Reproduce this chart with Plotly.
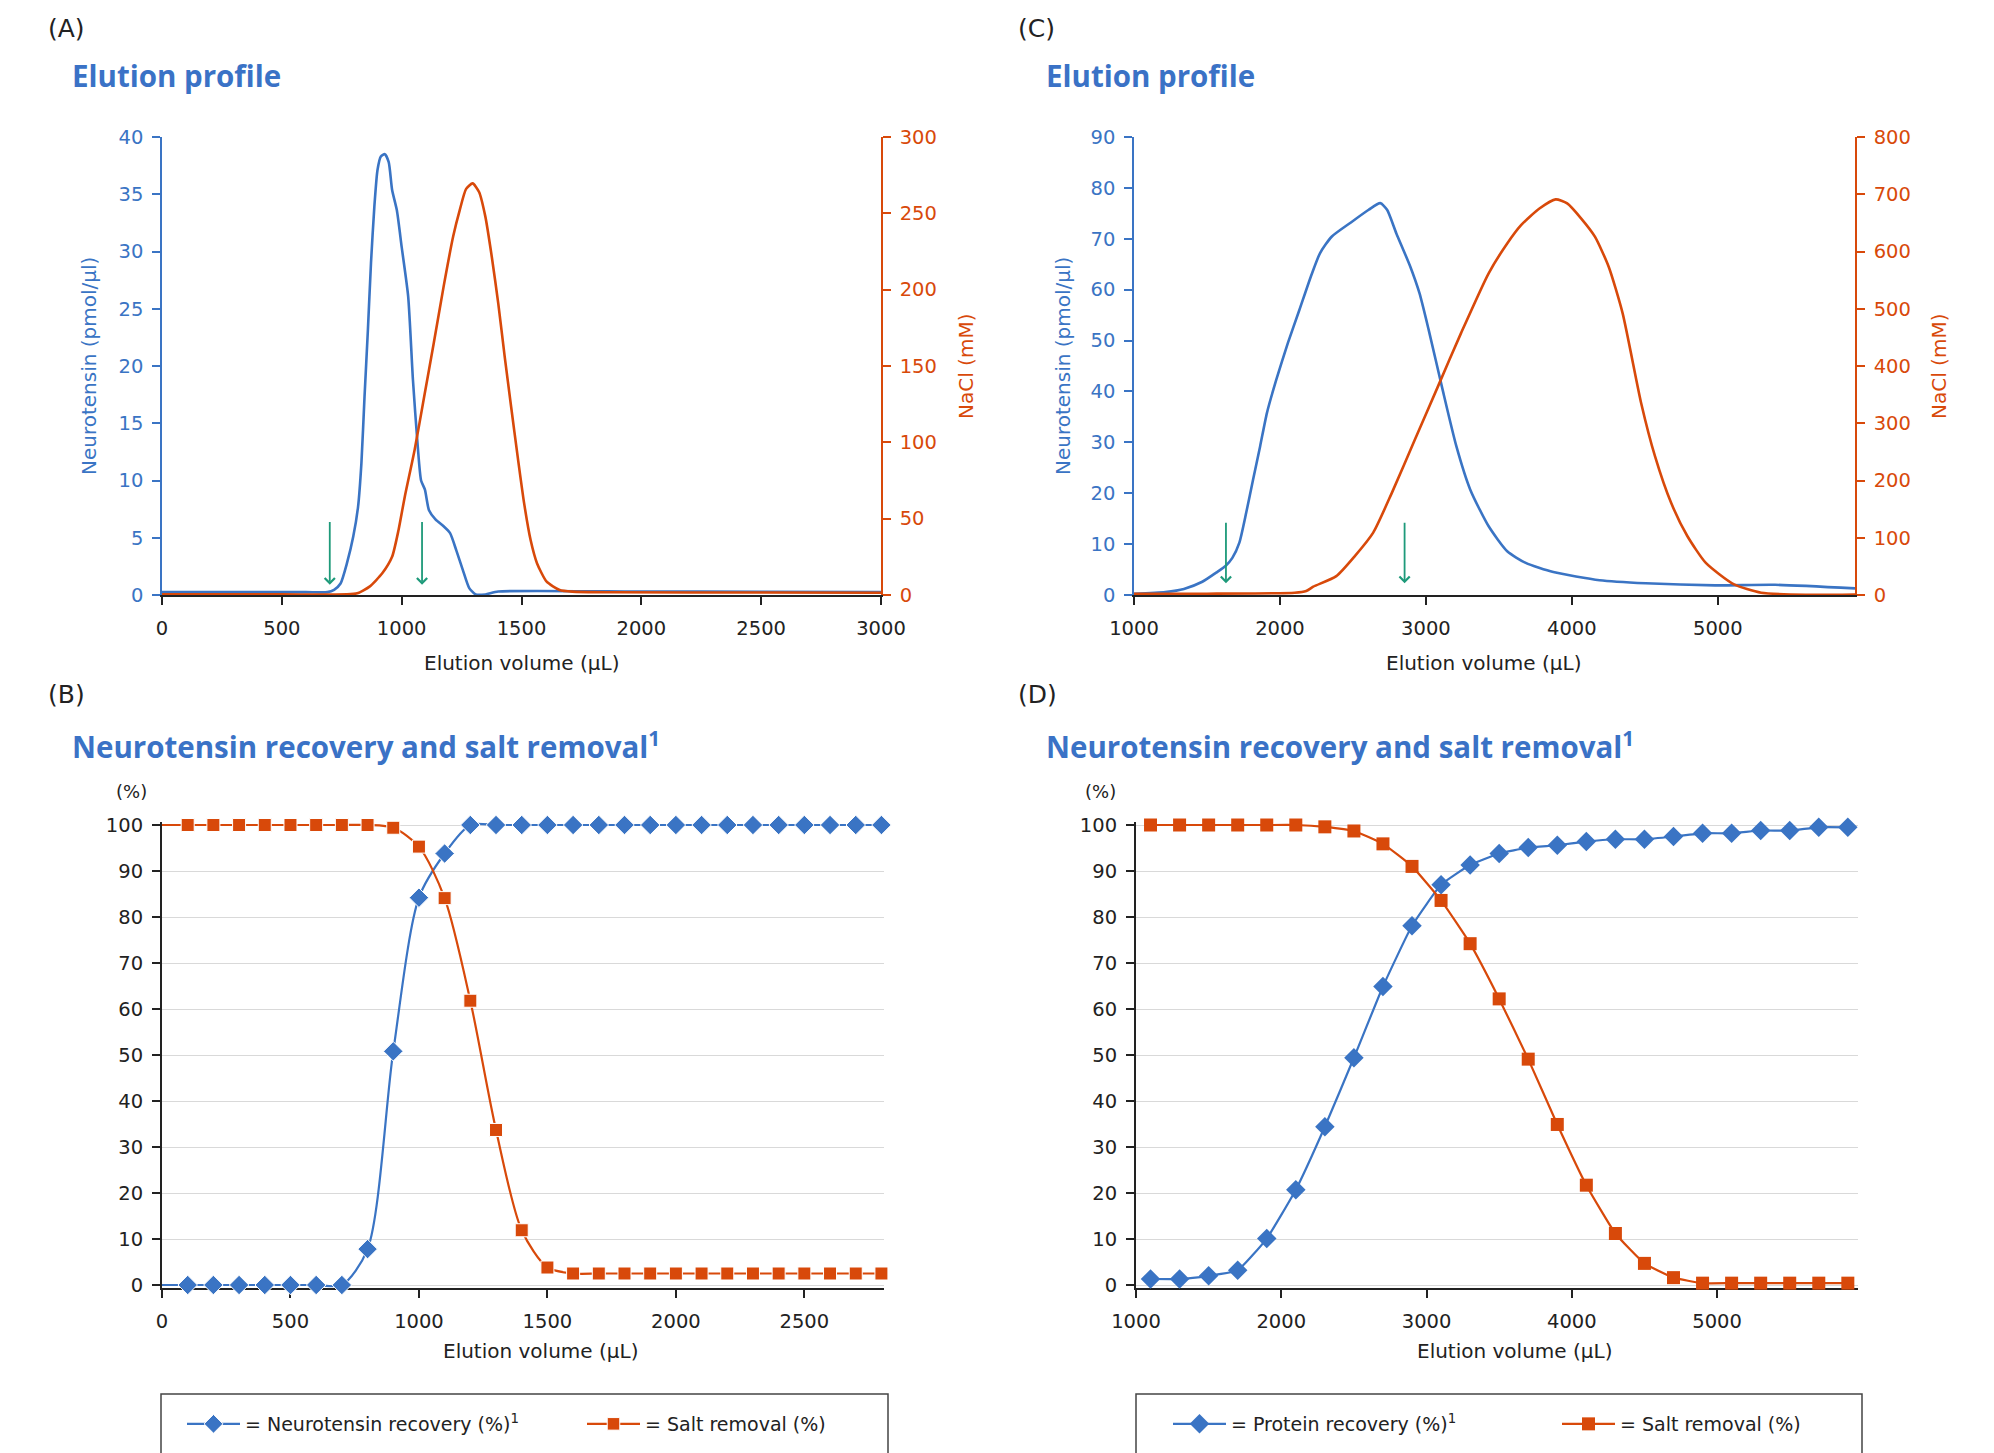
import plotly.graph_objects as go

W, H = 1994, 1453
OFF = 8  # page body margin in the browser

# ------------------------------------------------------------------ data
# Panel A - elution profile, neurotensin (pmol/ul) and NaCl (mM)
a_vol_neuro = [0, 300, 600, 690, 718, 745, 772, 798, 818, 832, 845, 859, 872, 886,
               899, 913, 930, 946, 960, 980, 1000, 1027, 1047, 1067, 1081, 1097,
               1114, 1141, 1175, 1202, 1228, 1255, 1282, 1309, 1349, 1403, 2000, 2500, 3000]
a_neuro = [0.25, 0.25, 0.25, 0.25, 0.45, 1.0, 2.8, 5.1, 7.7, 11.5, 17.3, 23.1, 29.0, 33.9,
           37.1, 38.3, 38.5, 37.8, 35.4, 33.6, 30.4, 26.1, 18.8, 13.0, 10.0, 9.2,
           7.4, 6.6, 6.0, 5.4, 3.9, 2.2, 0.6, 0.05, 0.05, 0.3, 0.3, 0.28, 0.25]
a_vol_nacl = [0, 500, 772, 815, 866, 919, 960, 987, 1013, 1054, 1094, 1134, 1175, 1215,
              1242, 1269, 1296, 1323, 1349, 1376, 1403, 1430, 1457, 1484, 1511, 1538,
              1565, 1605, 1659, 1712, 1887, 2500, 3000]
a_nacl = [0.4, 0.4, 0.4, 1.1, 5.5, 14.2, 25, 42.6, 64.4, 95, 130, 165, 202, 235,
          252, 266, 269.6, 264, 248, 221.6, 191, 156, 123, 90.6, 60, 36,
          20.7, 8.7, 3.3, 2.2, 1.8, 1.6, 1.5]
a_arrow_vol = [700, 1085]
a_arrow_top, a_arrow_tip = 6.5, 0.9

# Panel C - elution profile
c_vol_neuro = [1000, 1215, 1342, 1468, 1563, 1627, 1674, 1722, 1769, 1816, 1864, 1911,
               1975, 2054, 2133, 2212, 2275, 2354, 2481, 2608, 2687, 2734, 2797, 2892,
               2956, 3019, 3114, 3209, 3304, 3430, 3557, 3684, 3873, 4190, 4506, 4981,
               5392, 5940]
c_neuro = [0.25, 0.6, 1.2, 2.6, 4.4, 5.7, 7.3, 10.3, 16.2, 22.7, 29.2, 35.8,
           42.3, 49.5, 56.0, 62.6, 67.2, 70.4, 73.1, 75.7, 77.0, 75.7, 71.1, 64.6,
           59.3, 52.1, 40.4, 29.2, 20.7, 13.5, 8.6, 6.3, 4.5, 2.9, 2.3, 1.9,
           2.0, 1.3]
c_vol_nacl = [1000, 1500, 2101, 2180, 2228, 2386, 2513, 2639, 2766, 2924, 3082, 3240,
              3430, 3557, 3652, 3778, 3889, 3968, 4063, 4158, 4253, 4348, 4475, 4570,
              4680, 4791, 4918, 5108, 5297, 5614, 5940]
c_nacl = [2.3, 2.3, 4, 7, 14.5, 33, 68, 109, 178, 271, 364, 457,
          562, 614, 646, 675, 691, 684, 658, 626, 573, 492, 335, 242,
          161, 103, 56, 19, 4, 0.5, 1]
c_arrow_vol = [1630, 2854]
c_arrow_top, c_arrow_tip = 14.5, 2.3

# Panel B - recovery and salt removal (%); the line starts at 0 uL (no marker there)
b_vol = [0, 100, 200, 300, 400, 500, 600, 700, 800, 900, 1000, 1100, 1200, 1300, 1400,
         1500, 1600, 1700, 1800, 1900, 2000, 2100, 2200, 2300, 2400, 2500, 2600, 2700, 2800]
b_recovery = [0, 0, 0, 0, 0, 0, 0, 0, 7.8, 50.8, 84.2, 93.8, 100, 100, 100,
              100, 100, 100, 100, 100, 100, 100, 100, 100, 100, 100, 100, 100, 100]
b_salt = [100, 100, 100, 100, 100, 100, 100, 100, 100, 99.4, 95.3, 84.1, 61.8, 33.7, 11.9,
          3.8, 2.5, 2.5, 2.5, 2.5, 2.5, 2.5, 2.5, 2.5, 2.5, 2.5, 2.5, 2.5, 2.5]

# Panel D - recovery and salt removal (%)
d_vol = [1100, 1300, 1500, 1700, 1900, 2100, 2300, 2500, 2700, 2900, 3100, 3300, 3500,
         3700, 3900, 4100, 4300, 4500, 4700, 4900, 5100, 5300, 5500, 5700, 5900]
d_recovery = [1.3, 1.3, 2.0, 3.2, 10.1, 20.7, 34.4, 49.4, 64.9, 78.1, 87.0, 91.3, 93.8,
              95.1, 95.6, 96.4, 96.9, 96.9, 97.5, 98.2, 98.2, 98.8, 98.8, 99.5, 99.5]
d_salt = [100, 100, 100, 100, 100, 100, 99.6, 98.7, 95.9, 91.0, 83.6, 74.2, 62.2,
          49.1, 34.9, 21.7, 11.2, 4.7, 1.6, 0.4, 0.4, 0.4, 0.4, 0.4, 0.4]

# tick labels
a_x_ticks = [0, 500, 1000, 1500, 2000, 2500, 3000]
c_x_ticks = [1000, 2000, 3000, 4000, 5000]
b_x_ticks = [0, 500, 1000, 1500, 2000, 2500]
d_x_ticks = [1000, 2000, 3000, 4000, 5000]
pct_ticks = [0, 10, 20, 30, 40, 50, 60, 70, 80, 90, 100]

# ------------------------------------------------------------------ style
BLUE = "#3a74c4"
ORANGE = "#d8490a"
GREEN = "#1e9a7a"
DARK = "#222222"
TITLE_BLUE = "#3a72c6"
GRID = "#d9d9d9"
TICKFONT = "DejaVu Sans, Verdana, sans-serif"
YTFONT = "DejaVu Sans, Verdana, sans-serif"
TITLEFONT = "Open Sans, Noto Sans, sans-serif"
TS = 19.5


def fx(p):
    return (p - OFF) / W


def fy(p):
    return 1 - (p - OFF) / H


# marker sizes for panel B: the 0 uL start point carries no marker
b_dia = [0] + [15] * (len(b_vol) - 1)
b_sq = [0] + [13] * (len(b_vol) - 1)

fig = go.Figure()

# Panel A
fig.add_trace(go.Scatter(x=a_vol_neuro, y=a_neuro, mode="lines", line=dict(color=BLUE, width=2.6, shape="spline", smoothing=0.6),
                         xaxis="x", yaxis="y", showlegend=False))
fig.add_trace(go.Scatter(x=a_vol_nacl, y=a_nacl, mode="lines", line=dict(color=ORANGE, width=2.6, shape="spline", smoothing=0.6),
                         xaxis="x", yaxis="y2", showlegend=False))
# Panel C
fig.add_trace(go.Scatter(x=c_vol_neuro, y=c_neuro, mode="lines", line=dict(color=BLUE, width=2.6, shape="spline", smoothing=0.6),
                         xaxis="x2", yaxis="y3", showlegend=False))
fig.add_trace(go.Scatter(x=c_vol_nacl, y=c_nacl, mode="lines", line=dict(color=ORANGE, width=2.6, shape="spline", smoothing=0.6),
                         xaxis="x2", yaxis="y4", showlegend=False))
# Panel B
fig.add_trace(go.Scatter(x=b_vol, y=b_recovery, mode="lines+markers", name="= Neurotensin recovery (%)<sup>1</sup>",
                         line=dict(color=BLUE, width=2.2, shape="spline", smoothing=0.8),
                         marker=dict(symbol="diamond", size=b_dia, color=BLUE, opacity=1, sizemode="diameter", sizeref=1),
                         cliponaxis=False, xaxis="x3", yaxis="y5", legend="legend"))
fig.add_trace(go.Scatter(x=b_vol, y=b_salt, mode="lines+markers", name="= Salt removal (%)",
                         line=dict(color=ORANGE, width=2.2, shape="spline", smoothing=0.8),
                         marker=dict(symbol="square", size=b_sq, color=ORANGE, opacity=1, sizemode="diameter", sizeref=1),
                         cliponaxis=False, xaxis="x3", yaxis="y5", legend="legend"))
# Panel D
fig.add_trace(go.Scatter(x=d_vol, y=d_recovery, mode="lines+markers", name="= Protein recovery (%)<sup>1</sup>",
                         line=dict(color=BLUE, width=2.2, shape="spline", smoothing=0.4),
                         marker=dict(symbol="diamond", size=15, color=BLUE), cliponaxis=False,
                         xaxis="x4", yaxis="y6", legend="legend2"))
fig.add_trace(go.Scatter(x=d_vol, y=d_salt, mode="lines+markers", name="= Salt removal (%)",
                         line=dict(color=ORANGE, width=2.2, shape="spline", smoothing=0.4),
                         marker=dict(symbol="square", size=13, color=ORANGE), cliponaxis=False,
                         xaxis="x4", yaxis="y6", legend="legend2"))

tickf = dict(family=TICKFONT, size=TS, color=DARK)


def xax(dom, anchor, rng, tv):
    return dict(domain=dom, anchor=anchor, range=rng, tickvals=tv, ticks="outside", ticklen=8,
                tickwidth=1.5, tickcolor=DARK, showline=True, linecolor=DARK, linewidth=2,
                showgrid=False, zeroline=False, tickfont=tickf, layer="below traces",
                ticklabelstandoff=7)


def yax(dom, anchor, rng, dtick, color, side="left", overlaying=None, grid=False, lw=1.5):
    d = dict(anchor=anchor, range=rng, dtick=dtick, ticks="outside", ticklen=8, tickwidth=1.5,
             tickcolor=color, showline=True, linecolor=color, linewidth=lw, showgrid=grid,
             gridcolor=GRID, gridwidth=1.2, zeroline=False, side=side, ticklabelstandoff=5,
             tickfont=dict(family=TICKFONT, size=TS, color=color))
    if overlaying:
        d["overlaying"] = overlaying
    else:
        d["domain"] = dom
    return d


A_Y = [fy(595), fy(137)]
B_Y = [fy(1285 + 0.6 * 4.6), fy(825 - 0.6 * 4.6)]

y5 = yax(B_Y, "x3", [-0.6, 100.6], None, DARK, grid=True, lw=2)
y5.update(tickvals=pct_ticks, layer="below traces")
y6 = yax(B_Y, "x4", [-0.6, 100.6], None, DARK, grid=True, lw=2)
y6.update(tickvals=pct_ticks, layer="below traces")
for d in (y5, y6):
    d.pop("dtick")

fig.update_layout(
    width=W, height=H, margin=dict(l=0, r=0, t=0, b=0, autoexpand=False),
    paper_bgcolor="white", plot_bgcolor="white",
    xaxis=xax([fx(162), fx(881)], "y", [0, 3000], a_x_ticks),
    xaxis2=xax([fx(1134), fx(1855)], "y3", [1000, 5940], c_x_ticks),
    xaxis3=xax([fx(162), fx(884)], "y5", [0, 2810], b_x_ticks),
    xaxis4=xax([fx(1136), fx(1858)], "y6", [1000, 5970], d_x_ticks),
    yaxis=yax(A_Y, "x", [0, 40], 5, BLUE),
    yaxis2=yax(None, "x", [0, 300], 50, ORANGE, side="right", overlaying="y"),
    yaxis3=yax(A_Y, "x2", [0, 90], 10, BLUE),
    yaxis4=yax(None, "x2", [0, 800], 100, ORANGE, side="right", overlaying="y3"),
    yaxis5=y5,
    yaxis6=y6,
    legend=dict(orientation="h", x=fx(182), y=fy(1424), xanchor="left", yanchor="middle",
                font=dict(family=TICKFONT, size=19, color=DARK), itemwidth=53,
                entrywidth=332, entrywidthmode="pixels", bgcolor="rgba(0,0,0,0)", borderwidth=0),
    legend2=dict(orientation="h", x=fx(1168), y=fy(1424), xanchor="left", yanchor="middle",
                 font=dict(family=TICKFONT, size=19, color=DARK), itemwidth=53,
                 entrywidth=321, entrywidthmode="pixels", bgcolor="rgba(0,0,0,0)", borderwidth=0),
)

ann = []


def text(x, y, s, size, color=DARK, family=TICKFONT, xanchor="left", weight="normal", angle=0):
    ann.append(dict(x=fx(x), y=fy(y), xref="paper", yref="paper", text=s, showarrow=False,
                    xanchor=xanchor, yanchor="middle", textangle=angle,
                    font=dict(family=family, size=size, color=color, weight=weight)))


# panel labels and titles
text(46, 28, "(A)", 25)
text(1016, 28, "(C)", 25)
text(46, 694, "(B)", 25)
text(1016, 694, "(D)", 25)
text(70, 76, "Elution profile", 29.5, TITLE_BLUE, TITLEFONT, weight="bold")
text(1044, 76, "Elution profile", 29.5, TITLE_BLUE, TITLEFONT, weight="bold")
text(70, 745, "Neurotensin recovery and salt removal<sup>1</sup>", 29.5, TITLE_BLUE, TITLEFONT, weight="bold")
text(1044, 745, "Neurotensin recovery and salt removal<sup>1</sup>", 29.5, TITLE_BLUE, TITLEFONT, weight="bold")
text(131, 792, "(%)", 18, xanchor="center")
text(1100, 792, "(%)", 18, xanchor="center")
# axis titles
text(521, 663, "Elution volume (µL)", 20, xanchor="center")
text(1483, 663, "Elution volume (µL)", 20, xanchor="center")
text(540, 1351, "Elution volume (µL)", 20, xanchor="center")
text(1514, 1351, "Elution volume (µL)", 20, xanchor="center")
text(89, 366, "Neurotensin (pmol/µl)", 20, BLUE, YTFONT, xanchor="center", angle=-90)
text(966, 367, "NaCl (mM)", 20, ORANGE, YTFONT, xanchor="center", angle=-90)
text(1063, 366, "Neurotensin (pmol/µl)", 20, BLUE, YTFONT, xanchor="center", angle=-90)
text(1939, 367, "NaCl (mM)", 20, ORANGE, YTFONT, xanchor="center", angle=-90)

# fraction markers (arrows)
for v in a_arrow_vol:
    ann.append(dict(x=v, y=a_arrow_tip, ax=v, ay=a_arrow_top, xref="x", yref="y", axref="x", ayref="y",
                    text="", showarrow=True, arrowhead=4, arrowsize=1.1, arrowwidth=1.8, arrowcolor=GREEN))
for v in c_arrow_vol:
    ann.append(dict(x=v, y=c_arrow_tip, ax=v, ay=c_arrow_top, xref="x2", yref="y3", axref="x2", ayref="y3",
                    text="", showarrow=True, arrowhead=4, arrowsize=1.1, arrowwidth=1.8, arrowcolor=GREEN))

fig.update_layout(annotations=ann)

# legend frames
fig.update_layout(shapes=[
    dict(type="rect", xref="paper", yref="paper", x0=fx(161), x1=fx(888), y0=fy(1394), y1=fy(1480),
         line=dict(color="#444444", width=1.5)),
    dict(type="rect", xref="paper", yref="paper", x0=fx(1136), x1=fx(1862), y0=fy(1394), y1=fy(1480),
         line=dict(color="#444444", width=1.5)),
])

fig.write_html("out.html")
